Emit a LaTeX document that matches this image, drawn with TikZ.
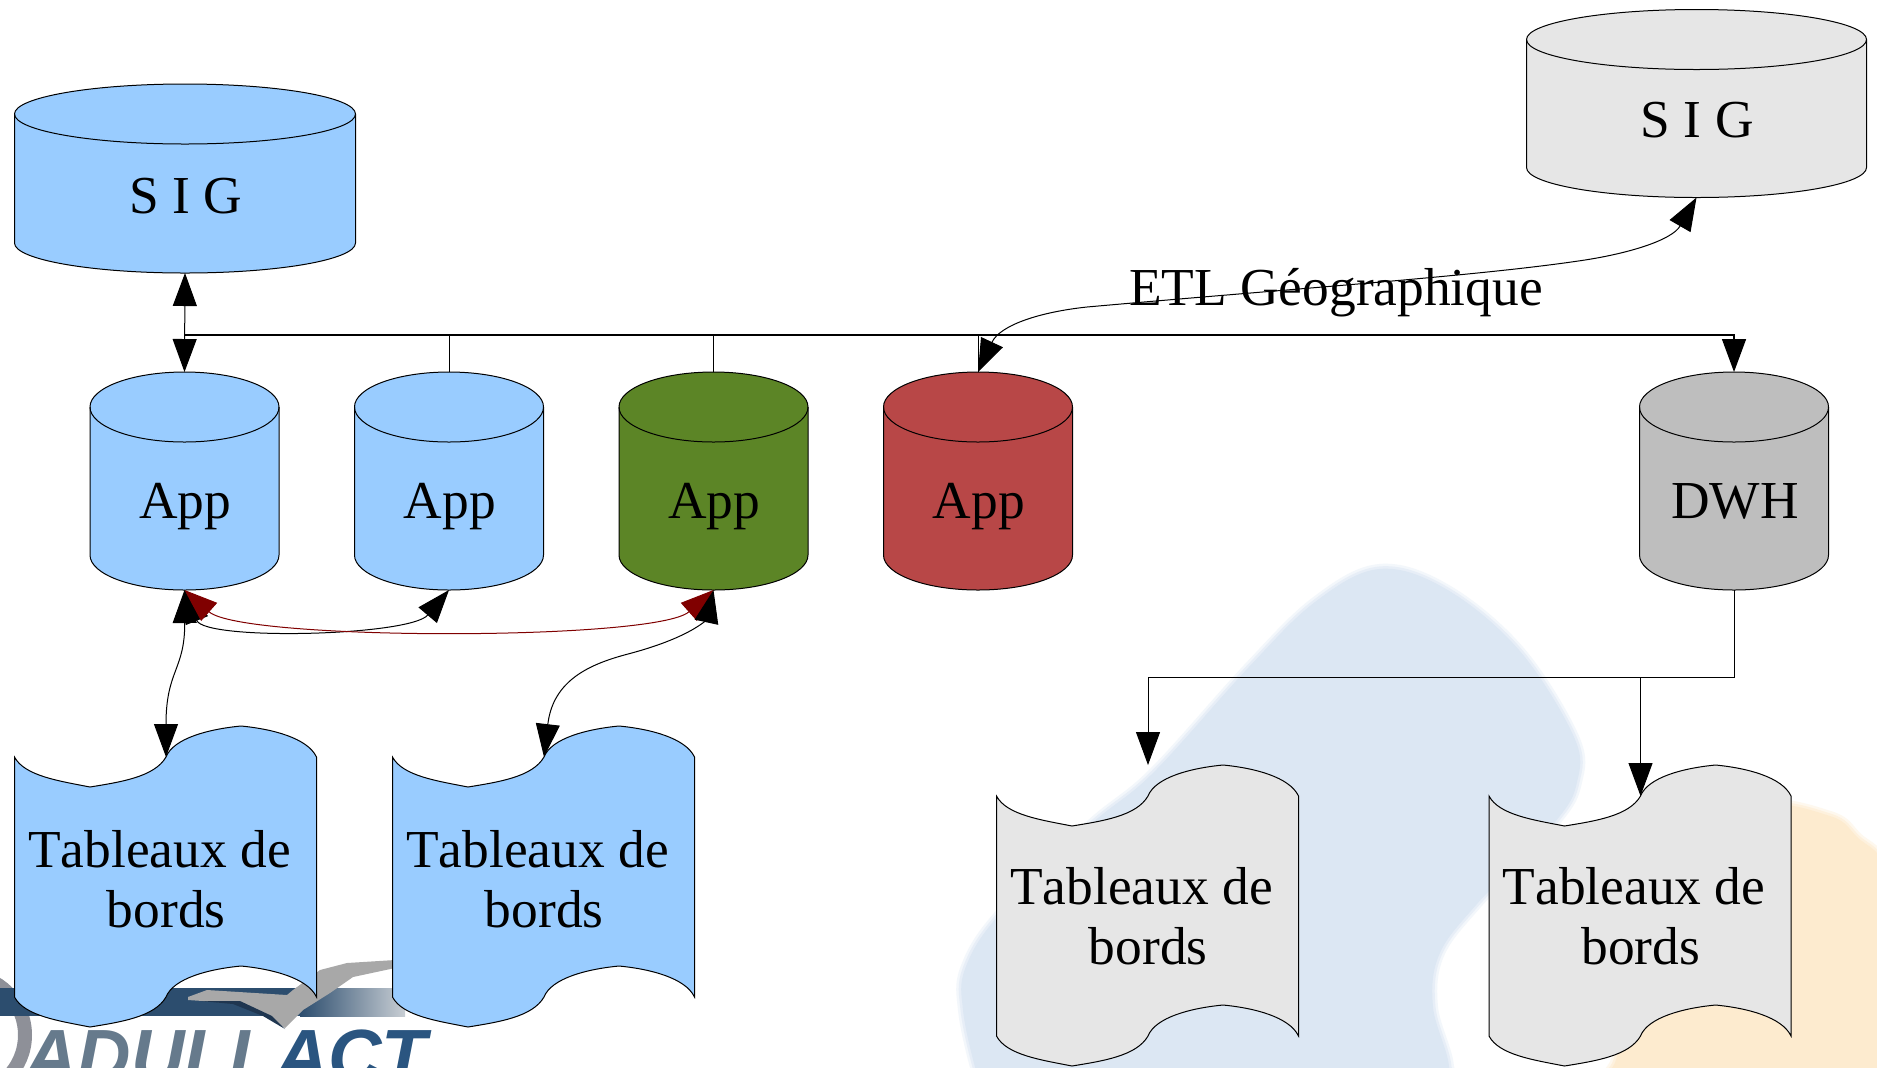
\documentclass[tikz,border=0pt]{standalone}
\usepackage{fontspec}
\setmainfont{Liberation Serif}
\newfontfamily\logofont{Liberation Sans}
\usetikzlibrary{arrows.meta,calc}
\definecolor{cblue}{HTML}{99CCFF}
\definecolor{cgrey}{HTML}{E6E6E6}
\definecolor{cdark}{HTML}{BEBEBE}
\definecolor{cgreen}{HTML}{5C8526}
\definecolor{cred}{HTML}{B84747}
\definecolor{cwine}{HTML}{800000}
\definecolor{wblue}{HTML}{DCE7F3}
\definecolor{worange}{HTML}{FDEBCF}
\definecolor{lbar}{HTML}{2C4D6E}
\definecolor{lbarend}{HTML}{C8CED4}
\definecolor{lcheck}{HTML}{A8A8A8}
\definecolor{lshadow}{HTML}{1F3650}
\definecolor{lletter}{HTML}{667A8C}
\definecolor{lletterb}{HTML}{2A5580}
\definecolor{lring}{HTML}{8E9098}
\tikzset{
  shapeline/.style={draw=black,line width=.5pt},
  lbl/.style={font=\fontsize{26.7}{30}\selectfont,inner sep=0pt,text=black},
  conn/.style={draw=black,line width=.5pt},
  head/.style={-{Triangle[length=16.5pt,width=12pt]}},
  headtwo/.style={{Triangle[length=16.5pt,width=12pt]}-{Triangle[length=16.5pt,width=12pt]}},
  softblob/.style={line join=round},
}
% name, cx, top, bottom, ry, rx, colour, text, baseline
\newcommand{\cylnode}[9]{%
  \pgfmathsetmacro\cL{#2-#6}\pgfmathsetmacro\cR{#2+#6}%
  \pgfmathsetmacro\cTa{#3+#5}\pgfmathsetmacro\cBa{#4-#5}%
  \pgfmathsetmacro\kx{.5523*#6}\pgfmathsetmacro\ky{.5523*#5}%
  \pgfmathsetmacro\cXl{#2-\kx}\pgfmathsetmacro\cXr{#2+\kx}%
  \pgfmathsetmacro\cTu{\cTa-\ky}\pgfmathsetmacro\cTd{\cTa+\ky}%
  \pgfmathsetmacro\cBd{\cBa+\ky}\pgfmathsetmacro\cFr{#3+2*#5}%
  \path[shapeline,fill=#7] (\cL,\cTa) .. controls (\cL,\cTu) and (\cXl,#3) .. (#2,#3)
     .. controls (\cXr,#3) and (\cR,\cTu) .. (\cR,\cTa) -- (\cR,\cBa)
     .. controls (\cR,\cBd) and (\cXr,#4) .. (#2,#4)
     .. controls (\cXl,#4) and (\cL,\cBd) .. (\cL,\cBa) -- cycle;
  \path[shapeline] (\cL,\cTa) .. controls (\cL,\cTd) and (\cXl,\cFr) .. (#2,\cFr)
     .. controls (\cXr,\cFr) and (\cR,\cTd) .. (\cR,\cTa);
  \node[lbl,anchor=base,xshift=.4pt] (#1) at (#2,#9) {#8};
  \coordinate (#1-top) at (#2,#3);
  \coordinate (#1-bot) at (#2,#4);
}
% name, x0, y0, colour, text centre y relative to y0
\newcommand{\tapenode}[5]{%
  \begin{scope}[shift={(#2,#3)}]
  \path[shapeline,fill=#4] (0,0) .. controls (10,19) and (45,24) .. (75.5,30)
    .. controls (106,25) and (140,20) .. (151.5,0)
    .. controls (159,-19) and (195,-28) .. (226.5,-31)
    .. controls (258,-28) and (293,-19) .. (302,0)
    -- (302,240) .. controls (293,221) and (258,212) .. (226.5,209)
    .. controls (195,212) and (159,221) .. (151.5,240)
    .. controls (140,260) and (106,265) .. (75.5,270)
    .. controls (45,264) and (10,259) .. (0,240) -- cycle;
  \node[lbl,align=center] (#1) at (151.7,#5) {\mbox{\addfontfeature{Kerning=Off}Tableaux de\ }\\bords};
  \coordinate (#1-notch) at (151.5,0);
  \coordinate (#1-crest) at (151.5,-31);
  \end{scope}
}
\begin{document}
\begin{tikzpicture}[x=.5pt,y=-.5pt]
\useasboundingbox (0,0) rectangle (1877,1067);
\begin{scope}
\clip (0,0) rectangle (1877,1067);
\fill[white] (0,0) rectangle (1877,1067);
% watermark blobs
\def\blueblob{plot[smooth cycle,tension=.6] coordinates {(1379,569) (1446,589) (1519,650) (1574,737) (1577,782) (1555,822) (1476,905) (1439,955) (1433,1007) (1449,1067) (1440,1110) (990,1110) (975,1067) (963,1010) (965,969) (998,916) (1089,826) (1153,773) (1248,668) (1315,602)}}
\def\orangeblob{plot[smooth cycle,tension=.6] coordinates {(1760,807) (1830,816) (1857,837) (1887,874) (1900,1000) (1900,1110) (1604,1110) (1616,1060) (1644,970) (1704,864)}}
\draw[wblue!35!white,line width=5pt,softblob] \blueblob;
\draw[wblue!70!white,line width=2.5pt,softblob] \blueblob;
\fill[wblue] \blueblob;
\draw[worange!35!white,line width=5pt,softblob] \orangeblob;
\draw[worange!70!white,line width=2.5pt,softblob] \orangeblob;
\fill[worange] \orangeblob;
% logo
\draw[line width=7pt,color=lring] (-35,1035) circle[radius=60];
\fill[lbar] (0,988) rectangle (300,1016);
\shade[left color=lbar,right color=lbarend,shading=axis] (300,988) rectangle (405,1016);
\fill[lcheck] (188,997) -- (207,990) -- (287,995) -- (293,990) -- (320,970) -- (347,963) -- (395,960) -- (395,968) -- (353,977) -- (330,993) -- (303,1010) -- (285,1028) -- (263,1015) -- (233,1003) -- (188,1000) -- cycle;
\fill[lshadow] (200,1001) -- (233,1004) -- (263,1016) -- (285,1029) -- (272,1016) -- (240,1001) -- cycle;
\node[inner sep=0pt,anchor=base west,font=\logofont\bfseries\itshape\fontsize{37}{37}\selectfont] (logotext) at (24,1081) {\textcolor{lletter}{ADULL}\textcolor{lletterb}{ACT}};
\end{scope}
% nodes
\cylnode{sigb}{185}{84}{273}{30}{170.5}{cblue}{S I G}{213}
\cylnode{sigg}{1696.5}{9.5}{197.5}{30}{170}{cgrey}{S I G}{137}
\cylnode{appa}{184.5}{372}{590}{35}{94.5}{cblue}{App}{518}
\cylnode{appb}{449}{372}{590}{35}{94.5}{cblue}{App}{518}
\cylnode{appc}{713.5}{372}{590}{35}{94.5}{cgreen}{App}{518}
\cylnode{appd}{978}{372}{590}{35}{94.5}{cred}{App}{518}
\cylnode{dwh}{1734}{372}{590}{35}{94.5}{cdark}{DWH}{518}
\tapenode{ta}{14.5}{757}{cblue}{122.5}
\tapenode{tb}{392.5}{757}{cblue}{122.5}
\tapenode{tc}{996.5}{796}{cgrey}{120.5}
\tapenode{td}{1489}{796}{cgrey}{120.5}
% connectors
\coordinate (busleft) at (184.5,335);
\coordinate (branch) at (1734,677);
\draw[conn,headtwo] (sigb-bot) -- (appa-top);
\draw[conn,line width=.7pt,head] (busleft) -| (dwh-top);
\draw[conn] (appb-top) -- (appb-top |- busleft);
\draw[conn] (appc-top) -- (appc-top |- busleft);
\draw[conn] (appd-top) -- (appd-top |- busleft);
\draw[conn,head] (dwh-bot) -- (branch) -| (tc-crest);
\draw[conn,head] (td-notch |- branch) -- (td-notch);
\draw[conn,headtwo] (appa-bot) .. controls (205,641) and (410,636) .. (appb-bot);
\draw[conn,draw=cwine,headtwo,color=cwine] (appa-bot) .. controls (242,641) and (656,641) .. (appc-bot);
\draw[conn,headtwo] (appa-bot) .. controls (185,670) and (166,670) .. (ta-notch);
\draw[conn,headtwo] (appc-bot) .. controls (708,615) and (700,635) .. (628,654) .. controls (590,664) and (553,680) .. (tb-notch);
\draw[conn,headtwo] (sigg-bot) .. controls (1672,240) and (1630,253) .. (1585,260) .. controls (1480,276) and (1300,288) .. (1087,307) .. controls (1040,312) and (1000,325) .. (appd-top);
\node[lbl,anchor=base] (etl) at (1336,305) {ETL Géographique};
\end{tikzpicture}
\end{document}
